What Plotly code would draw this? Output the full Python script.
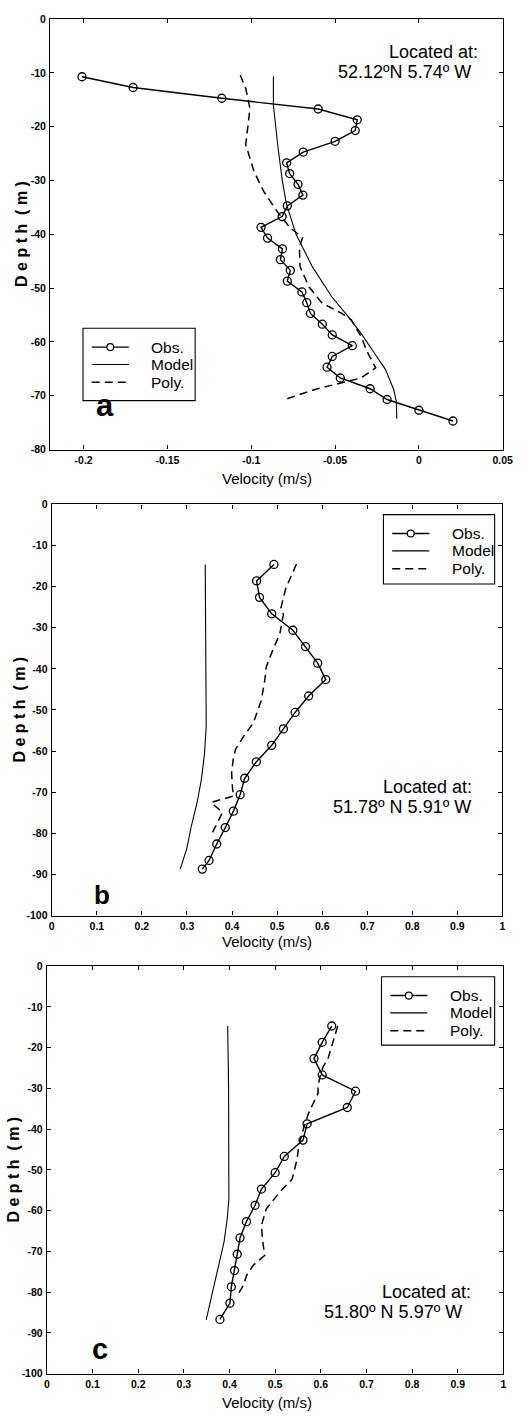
import plotly.graph_objects as go

# ---------------- data ----------------
# Panel a (52.12N 5.74W)
obs_a_depth = [-10.7, -12.7, -14.7, -16.7, -18.7, -20.7, -22.7, -24.7, -26.7, -28.7, -30.7,
               -32.7, -34.7, -36.7, -38.7, -40.7, -42.7, -44.7, -46.7, -48.7, -50.7, -52.7,
               -54.7, -56.7, -58.7, -60.7, -62.7, -64.7, -66.7, -68.7, -70.7, -72.7, -74.7]
obs_a_vel = [-0.201, -0.1705, -0.1176, -0.0601, -0.0368, -0.038, -0.050, -0.069, -0.0789,
             -0.0771, -0.0721, -0.0692, -0.0785, -0.0816, -0.0942, -0.0903, -0.0814, -0.0826,
             -0.0767, -0.0785, -0.0698, -0.0669, -0.0647, -0.0576, -0.0517, -0.0397, -0.0517,
             -0.0548, -0.0469, -0.0291, -0.019, 0.0, 0.0203]
model_a_depth = [-10.6, -16.0, -24.0, -30.0, -34.4, -40.0, -46.0, -51.6, -55.3, -58.4, -62.0,
                 -65.1, -68.8, -71.0, -74.3]
model_a_vel = [-0.0868, -0.0868, -0.084, -0.0815, -0.079, -0.0733, -0.0636, -0.052, -0.0422,
               -0.0345, -0.0267, -0.020, -0.0151, -0.0135, -0.0132]
poly_a_depth = [-10.4, -12.9, -16.6, -20.3, -23.3, -28.3, -32.0, -35.6, -38.7, -40.6, -42.4,
                -46.0, -49.8, -52.8, -54.7, -55.9, -59.0, -62.0, -64.8, -66.7, -67.6, -68.8,
                -70.7]
poly_a_vel = [-0.1066, -0.1033, -0.1008, -0.1023, -0.1033, -0.0984, -0.0926, -0.0849, -0.0771,
              -0.0694, -0.0713, -0.0709, -0.0655, -0.0577, -0.046, -0.0403, -0.0345, -0.0306,
              -0.0258, -0.0345, -0.0461, -0.0616, -0.080]

# Panel b (51.78N 5.91W)
obs_b_depth = [-14.6, -18.6, -22.6, -26.6, -30.6, -34.6, -38.6, -42.6, -46.6, -50.6, -54.6,
               -58.6, -62.6, -66.6, -70.6, -74.6, -78.6, -82.6, -86.6, -88.7]
obs_b_vel = [0.493, 0.4545, 0.461, 0.488, 0.535, 0.563, 0.590, 0.608, 0.570, 0.540, 0.514,
             0.488, 0.454, 0.428, 0.418, 0.403, 0.385, 0.366, 0.349, 0.334]
model_b_depth = [-14.6, -30.0, -54.0, -60.5, -66.9, -72.5, -78.1, -83.8, -88.7]
model_b_vel = [0.3405, 0.341, 0.3427, 0.339, 0.332, 0.3225, 0.310, 0.2994, 0.285]
poly_b_depth = [-14.5, -20.3, -25.1, -26.7, -31.5, -35.5, -39.5, -42.8, -47.6, -53.2, -56.4,
                -59.6, -62.0, -65.3, -69.3, -70.9, -72.5, -74.9, -77.3, -78.9, -80.5]
poly_b_vel = [0.543, 0.5195, 0.5087, 0.514, 0.506, 0.490, 0.476, 0.4726, 0.465, 0.447, 0.4257,
              0.4076, 0.4026, 0.399, 0.4012, 0.404, 0.3535, 0.3788, 0.368, 0.3608, 0.3535]

# Panel c (51.80N 5.97W)
obs_c_depth = [-14.7, -18.7, -22.7, -26.7, -30.7, -34.7, -38.7, -42.7, -46.7, -50.7, -54.7,
               -58.7, -62.7, -66.7, -70.7, -74.7, -78.7, -82.7, -86.7]
obs_c_vel = [0.624, 0.603, 0.585, 0.603, 0.676, 0.658, 0.570, 0.561, 0.520, 0.500, 0.470,
             0.456, 0.437, 0.423, 0.417, 0.411, 0.404, 0.401, 0.379]
model_c_depth = [-14.7, -30.0, -57.2, -62.0, -67.7, -73.4, -79.9, -86.8]
model_c_vel = [0.396, 0.398, 0.3986, 0.395, 0.388, 0.377, 0.363, 0.349]
poly_c_depth = [-14.7, -18.2, -22.7, -24.7, -27.2, -29.6, -31.2, -36.1, -41.0, -44.2, -47.4,
                -52.3, -55.6, -59.6, -63.7, -67.7, -71.0, -73.4, -75.8, -78.3, -80.3]
poly_c_vel = [0.637, 0.628, 0.6157, 0.605, 0.598, 0.594, 0.594, 0.573, 0.559, 0.5516, 0.548,
              0.537, 0.509, 0.4804, 0.4698, 0.473, 0.477, 0.452, 0.4377, 0.4306, 0.420]

# tick values / labels
xticks_a = [-0.2, -0.15, -0.1, -0.05, 0, 0.05]
xlabels_a = ["-0.2", "-0.15", "-0.1", "-0.05", "0", "0.05"]
xticks_bc = [0, 0.1, 0.2, 0.3, 0.4, 0.5, 0.6, 0.7, 0.8, 0.9, 1]
xlabels_bc = ["0", "0.1", "0.2", "0.3", "0.4", "0.5", "0.6", "0.7", "0.8", "0.9", "1"]
yticks_a = [0, -10, -20, -30, -40, -50, -60, -70, -80]
ylabels_a = ["0", "-10", "-20", "-30", "-40", "-50", "-60", "-70", "-80"]
yticks_bc = [0, -10, -20, -30, -40, -50, -60, -70, -80, -90, -100]
ylabels_bc = ["0", "-10", "-20", "-30", "-40", "-50", "-60", "-70", "-80", "-90", "-100"]

series_names = ["Obs.", "Model", "Poly."]
panel_letters = ["a", "b", "c"]
locations = [("Located at:", "52.12ºN 5.74º W"),
             ("Located at:", "51.78º N 5.91º W"),
             ("Located at:", "51.80º N 5.97º W")]

# ---------------- layout helpers ----------------
W, H = 530, 1419


def px_x(p):
    return p / W


def px_y(p):
    return 1 - p / H


SANS = "Liberation Sans, Arial, Helvetica, sans-serif"
OBS_LINE = dict(color="black", width=1.4)
MODEL_LINE = dict(color="black", width=1.1)
POLY_LINE = dict(color="black", width=1.5, dash="8px,5px")

fig = go.Figure()

panels = [
    dict(obs=(obs_a_vel, obs_a_depth), model=(model_a_vel, model_a_depth),
         poly=(poly_a_vel, poly_a_depth), x="x", y="y"),
    dict(obs=(obs_b_vel, obs_b_depth), model=(model_b_vel, model_b_depth),
         poly=(poly_b_vel, poly_b_depth), x="x2", y="y2"),
    dict(obs=(obs_c_vel, obs_c_depth), model=(model_c_vel, model_c_depth),
         poly=(poly_c_vel, poly_c_depth), x="x3", y="y3"),
]

for p in panels:
    fig.add_trace(go.Scatter(
        x=p["obs"][0], y=p["obs"][1], name=series_names[0], mode="lines+markers",
        line=OBS_LINE,
        marker=dict(symbol="circle-open", size=8, color="black", line=dict(width=1.3)),
        xaxis=p["x"], yaxis=p["y"]))
    fig.add_trace(go.Scatter(
        x=p["model"][0], y=p["model"][1], name=series_names[1], mode="lines",
        line=MODEL_LINE, xaxis=p["x"], yaxis=p["y"]))
    fig.add_trace(go.Scatter(
        x=p["poly"][0], y=p["poly"][1], name=series_names[2], mode="lines",
        line=POLY_LINE, xaxis=p["x"], yaxis=p["y"]))

# plot-area boxes in pixels: (left, right, top, bottom)
boxes = [(48.3, 512.3, 13.3, 447.3), (50, 512, 502.7, 917.3), (45, 513, 968.3, 1379.3)]

tickfont = dict(family=SANS, size=10.5, color="black", weight="bold")
common = dict(showgrid=False, zeroline=False, showline=True, linecolor="black", linewidth=1.3,
              mirror="ticks", ticks="inside", ticklen=4, tickwidth=1, tickcolor="black",
              tickfont=tickfont, tickmode="array")

axis_cfg = [
    (dict(range=[-0.22, 0.05], tickvals=xticks_a, ticktext=xlabels_a),
     dict(range=[-80, 0], tickvals=yticks_a, ticktext=ylabels_a)),
    (dict(range=[0, 1], tickvals=xticks_bc, ticktext=xlabels_bc),
     dict(range=[-100, 0], tickvals=yticks_bc, ticktext=ylabels_bc)),
    (dict(range=[0, 1], tickvals=xticks_bc, ticktext=xlabels_bc),
     dict(range=[-100, 0], tickvals=yticks_bc, ticktext=ylabels_bc)),
]

layout_axes = {}
for i, ((l, r, t, b), (xc, yc)) in enumerate(zip(boxes, axis_cfg)):
    suffix = "" if i == 0 else str(i + 1)
    layout_axes["xaxis" + suffix] = dict(common, domain=[px_x(l), px_x(r)], anchor="y" + suffix,
                                         ticklabelstandoff=1, **xc)
    layout_axes["yaxis" + suffix] = dict(common, domain=[px_y(b), px_y(t)], anchor="x" + suffix,
                                         ticklabelstandoff=1, **yc)

fig.update_layout(**layout_axes)

annotations = []
shapes = []

# ---------------- legend boxes (one per panel) ----------------
# (left, top, right, bottom) of each legend frame in pixels
legend_frames = [(82, 325, 197, 398), (390, 513, 504, 583), (388, 979, 504, 1048)]
row_offsets = [19, 36.5, 54.5]
for (l, t, r, b) in legend_frames:
    shapes.append(dict(type="rect", xref="paper", yref="paper", layer="above",
                       x0=px_x(l), x1=px_x(r), y0=px_y(b), y1=px_y(t),
                       line=dict(color="black", width=1.1), fillcolor="white"))
    styles = [OBS_LINE, MODEL_LINE, POLY_LINE]
    for k, (name, style) in enumerate(zip(series_names, styles)):
        yy = t + row_offsets[k]
        shapes.append(dict(type="line", xref="paper", yref="paper", layer="above",
                           x0=px_x(l + 9), x1=px_x(l + 47), y0=px_y(yy), y1=px_y(yy),
                           line=style))
        if k == 0:
            cx = l + 28
            shapes.append(dict(type="circle", xref="paper", yref="paper", layer="above",
                               x0=px_x(cx - 3.5), x1=px_x(cx + 3.5),
                               y0=px_y(yy + 3.5), y1=px_y(yy - 3.5),
                               line=dict(color="black", width=1.2), fillcolor="white"))
        annotations.append(dict(text=name, x=px_x(l + 68), y=px_y(yy), xref="paper",
                                yref="paper", showarrow=False, xanchor="left",
                                yanchor="middle",
                                font=dict(family=SANS, size=15.5, color="black")))

# x-axis titles
for yc in [477, 943, 1408]:
    annotations.append(dict(text="Velocity (m/s)", x=px_x(271), y=px_y(yc), xref="paper",
                            yref="paper", showarrow=False, xanchor="center", yanchor="middle",
                            font=dict(family=SANS, size=15, color="black")))
# y-axis titles (letter-spaced)
for xc, (l, r, t, b) in zip([19, 17, 11], boxes):
    annotations.append(dict(text="D e p t h  ( m )", x=px_x(xc), y=px_y((t + b) / 2),
                            xref="paper", yref="paper", showarrow=False, textangle=-90,
                            xanchor="center", yanchor="middle",
                            font=dict(family=SANS, size=16, color="black", weight="bold")))
# location labels
loc_pos = [((489, 46), (482, 67)), ((483, 788), (482, 808)), ((482, 1297), (473, 1317))]
for (l1, l2), ((x1, y1), (x2, y2)) in zip(locations, loc_pos):
    annotations.append(dict(text=l1, x=px_x(x1), y=px_y(y1), xref="paper", yref="paper",
                            showarrow=False, xanchor="right", yanchor="middle",
                            font=dict(family=SANS, size=18, color="black")))
    annotations.append(dict(text=l2, x=px_x(x2), y=px_y(y2), xref="paper", yref="paper",
                            showarrow=False, xanchor="right", yanchor="middle",
                            font=dict(family=SANS, size=18, color="black")))
# panel letters
letter_pos = [(105, 403, 31), (101, 897, 26), (99, 1354, 29)]
for letter, (xc, yc, fs) in zip(panel_letters, letter_pos):
    annotations.append(dict(text=letter, x=px_x(xc), y=px_y(yc), xref="paper", yref="paper",
                            showarrow=False, xanchor="center", yanchor="middle",
                            font=dict(family=SANS, size=fs, color="black", weight="bold")))

fig.update_layout(
    width=W, height=H, margin=dict(l=0, r=0, t=0, b=0),
    paper_bgcolor="white", plot_bgcolor="white",
    annotations=annotations, shapes=shapes, showlegend=False,
)

fig.write_html("out.html")
